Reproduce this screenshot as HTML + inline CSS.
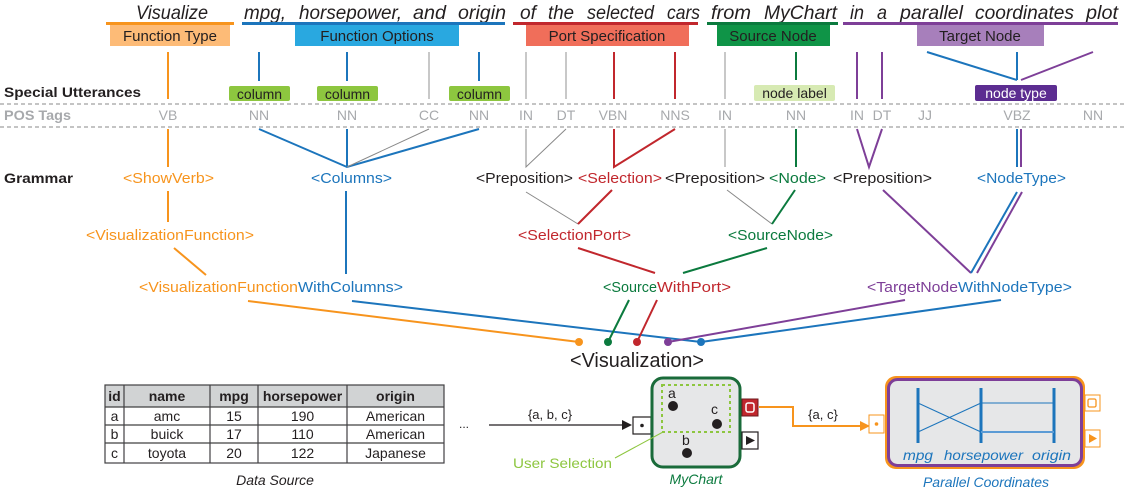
<!DOCTYPE html>
<html><head><meta charset="utf-8"><style>
html,body{margin:0;padding:0;background:#fff;}
svg{display:block;font-family:"Liberation Sans",sans-serif;}
</style></head><body>
<svg width="1124" height="491" viewBox="0 0 1124 491" xmlns="http://www.w3.org/2000/svg">
<!-- sentence -->
<g font-size="19" font-style="italic" fill="#231f20">
<text x="136" y="19" textLength="72" lengthAdjust="spacingAndGlyphs">Visualize</text>
<text x="244" y="19" textLength="42" lengthAdjust="spacingAndGlyphs">mpg,</text>
<text x="299" y="19" textLength="103" lengthAdjust="spacingAndGlyphs">horsepower,</text>
<text x="413" y="19" textLength="33" lengthAdjust="spacingAndGlyphs">and</text>
<text x="458" y="19" textLength="48" lengthAdjust="spacingAndGlyphs">origin</text>
<text x="520" y="19" textLength="16" lengthAdjust="spacingAndGlyphs">of</text>
<text x="548" y="19" textLength="26" lengthAdjust="spacingAndGlyphs">the</text>
<text x="587" y="19" textLength="67" lengthAdjust="spacingAndGlyphs">selected</text>
<text x="667" y="19" textLength="33" lengthAdjust="spacingAndGlyphs">cars</text>
<text x="711" y="19" textLength="40" lengthAdjust="spacingAndGlyphs">from</text>
<text x="764" y="19" textLength="73" lengthAdjust="spacingAndGlyphs">MyChart</text>
<text x="850" y="19" textLength="14" lengthAdjust="spacingAndGlyphs">in</text>
<text x="877" y="19" textLength="10" lengthAdjust="spacingAndGlyphs">a</text>
<text x="900" y="19" textLength="63" lengthAdjust="spacingAndGlyphs">parallel</text>
<text x="975" y="19" textLength="99" lengthAdjust="spacingAndGlyphs">coordinates</text>
<text x="1086" y="19" textLength="32" lengthAdjust="spacingAndGlyphs">plot</text>
</g>
<!-- underlines -->
<rect x="106" y="22" width="128" height="3" fill="#f7941d"/>
<rect x="242" y="22" width="263" height="3" fill="#1c75bc"/>
<rect x="513" y="22" width="185" height="3" fill="#c1272d"/>
<rect x="707" y="22" width="131" height="3" fill="#0b7a3e"/>
<rect x="843" y="22" width="275" height="3" fill="#7e3f98"/>
<!-- label boxes -->
<rect x="110" y="25" width="120" height="21" fill="#fdbb77"/>
<rect x="295" y="25" width="164" height="21" fill="#29a8e0"/>
<rect x="526" y="25" width="163" height="21" fill="#f06e5a"/>
<rect x="717" y="25" width="113" height="21" fill="#0f9447"/>
<rect x="917" y="25" width="127" height="21" fill="#a77fbb"/>
<g font-size="15" fill="#231f20" text-anchor="middle">
<text x="170" y="41">Function Type</text>
<text x="377" y="41">Function Options</text>
<text x="607" y="41">Port Specification</text>
<text x="773" y="41">Source Node</text>
<text x="980" y="41">Target Node</text>
</g>
<!-- top verticals -->
<g stroke-width="2" fill="none">
<line x1="168" y1="52" x2="168" y2="99" stroke="#f7941d"/>
<line x1="259" y1="52" x2="259" y2="81" stroke="#1c75bc"/>
<line x1="347" y1="52" x2="347" y2="81" stroke="#1c75bc"/>
<line x1="429" y1="52" x2="429" y2="99" stroke="#aaa" stroke-width="1.3"/>
<line x1="479" y1="52" x2="479" y2="81" stroke="#1c75bc"/>
<line x1="526" y1="52" x2="526" y2="99" stroke="#aaa" stroke-width="1.3"/>
<line x1="566" y1="52" x2="566" y2="99" stroke="#aaa" stroke-width="1.3"/>
<line x1="614" y1="52" x2="614" y2="99" stroke="#c1272d"/>
<line x1="675" y1="52" x2="675" y2="99" stroke="#c1272d"/>
<line x1="725" y1="52" x2="725" y2="99" stroke="#aaa" stroke-width="1.3"/>
<line x1="796" y1="52" x2="796" y2="80" stroke="#0b7a3e"/>
<line x1="857" y1="52" x2="857" y2="99" stroke="#7e3f98"/>
<line x1="882" y1="52" x2="882" y2="99" stroke="#7e3f98"/>
<polyline points="927,52 1017,80" stroke="#1c75bc"/>
<line x1="1017" y1="52" x2="1017" y2="80" stroke="#1c75bc"/>
<polyline points="1021,80 1093,52" stroke="#7e3f98"/>
</g>
<!-- left labels -->
<text x="4" y="97" font-size="14" font-weight="bold" fill="#231f20" textLength="137" lengthAdjust="spacingAndGlyphs">Special Utterances</text>
<text x="4" y="120" font-size="14" font-weight="bold" fill="#a7a9ac" textLength="67" lengthAdjust="spacingAndGlyphs">POS Tags</text>
<text x="4" y="183" font-size="14" font-weight="bold" fill="#231f20" textLength="69" lengthAdjust="spacingAndGlyphs">Grammar</text>
<!-- utterance boxes -->
<g font-size="14" text-anchor="middle">
<rect x="229" y="86" width="61" height="15" rx="2" fill="#8dc63f"/>
<rect x="317" y="86" width="61" height="15" rx="2" fill="#8dc63f"/>
<rect x="449" y="86" width="61" height="15" rx="2" fill="#8dc63f"/>
<text x="259.5" y="99" fill="#231f20">column</text>
<text x="347.5" y="99" fill="#231f20">column</text>
<text x="479.5" y="99" fill="#231f20">column</text>
<rect x="754" y="85" width="81" height="16" rx="2" fill="#d7eab3"/>
<text x="794.5" y="98" fill="#231f20">node label</text>
<rect x="975" y="85" width="82" height="16" rx="2" fill="#5c2d91"/>
<text x="1016" y="98" fill="#fff">node type</text>
</g>
<!-- dashed -->
<line x1="0" y1="104" x2="1124" y2="104" stroke="#888" stroke-width="1" stroke-dasharray="4,3"/>
<line x1="0" y1="127" x2="1124" y2="127" stroke="#888" stroke-width="1" stroke-dasharray="4,3"/>
<!-- POS -->
<g font-size="14" fill="#a7a9ac" text-anchor="middle">
<text x="168" y="120">VB</text><text x="259" y="120">NN</text><text x="347" y="120">NN</text>
<text x="429" y="120">CC</text><text x="479" y="120">NN</text><text x="526" y="120">IN</text>
<text x="566" y="120">DT</text><text x="613" y="120">VBN</text><text x="675" y="120">NNS</text>
<text x="725" y="120">IN</text><text x="796" y="120">NN</text><text x="857" y="120">IN</text>
<text x="882" y="120">DT</text><text x="925" y="120">JJ</text><text x="1017" y="120">VBZ</text>
<text x="1093" y="120">NN</text>
</g>
<!-- POS -> grammar lines -->
<g stroke-width="2" fill="none">
<line x1="168" y1="129" x2="168" y2="167" stroke="#f7941d"/>
<polyline points="259,129 347,167 479,129" stroke="#1c75bc"/>
<line x1="347" y1="129" x2="347" y2="167" stroke="#1c75bc"/>
<line x1="429" y1="129" x2="347" y2="167" stroke="#888" stroke-width="1"/>
<polyline points="526,129 526,167 566,129" stroke="#888" stroke-width="1"/>
<polyline points="614,129 614,167 675,129" stroke="#c1272d"/>
<line x1="725" y1="129" x2="725" y2="167" stroke="#aaa" stroke-width="1.3"/>
<line x1="796" y1="129" x2="796" y2="167" stroke="#0b7a3e"/>
<polyline points="857,129 869,167 882,129" stroke="#7e3f98"/>
<line x1="1017" y1="129" x2="1017" y2="167" stroke="#1c75bc"/>
<line x1="1021" y1="129" x2="1021" y2="167" stroke="#7e3f98"/>
</g>
<!-- grammar row 1 -->
<g font-size="15">
<text x="123" y="183" fill="#f7941d" textLength="91" lengthAdjust="spacingAndGlyphs">&lt;ShowVerb&gt;</text>
<text x="311" y="183" fill="#1c75bc" textLength="81" lengthAdjust="spacingAndGlyphs">&lt;Columns&gt;</text>
<text x="476" y="183" fill="#231f20" textLength="97" lengthAdjust="spacingAndGlyphs">&lt;Preposition&gt;</text>
<text x="578" y="183" fill="#c1272d" textLength="84" lengthAdjust="spacingAndGlyphs">&lt;Selection&gt;</text>
<text x="665" y="183" fill="#231f20" textLength="100" lengthAdjust="spacingAndGlyphs">&lt;Preposition&gt;</text>
<text x="769" y="183" fill="#0b7a3e" textLength="57" lengthAdjust="spacingAndGlyphs">&lt;Node&gt;</text>
<text x="833" y="183" fill="#231f20" textLength="99" lengthAdjust="spacingAndGlyphs">&lt;Preposition&gt;</text>
<text x="977" y="183" fill="#1c75bc" textLength="89" lengthAdjust="spacingAndGlyphs">&lt;NodeType&gt;</text>
</g>
<!-- row1 -> row2 lines -->
<g stroke-width="2" fill="none">
<line x1="168" y1="191" x2="168" y2="222" stroke="#f7941d"/>
<polyline points="526,192 578,224" stroke="#888" stroke-width="1"/>
<polyline points="612,190 578,224" stroke="#c1272d"/>
<polyline points="727,190 772,224" stroke="#888" stroke-width="1"/>
<polyline points="795,190 772,224" stroke="#0b7a3e"/>
<line x1="346" y1="191" x2="346" y2="274" stroke="#1c75bc"/>
<polyline points="883,190 971,273" stroke="#7e3f98"/>
<polyline points="1017,192 971,273" stroke="#1c75bc"/>
<polyline points="1022,192 977,273" stroke="#7e3f98"/>
</g>
<!-- grammar row 2 -->
<g font-size="15">
<text x="86" y="240" fill="#f7941d" textLength="168" lengthAdjust="spacingAndGlyphs">&lt;VisualizationFunction&gt;</text>
<text x="518" y="240" fill="#c1272d" textLength="113" lengthAdjust="spacingAndGlyphs">&lt;SelectionPort&gt;</text>
<text x="728" y="240" fill="#0b7a3e" textLength="105" lengthAdjust="spacingAndGlyphs">&lt;SourceNode&gt;</text>
</g>
<g stroke-width="2" fill="none">
<line x1="174" y1="248" x2="206" y2="275" stroke="#f7941d"/>
<line x1="578" y1="248" x2="655" y2="273" stroke="#c1272d"/>
<line x1="767" y1="248" x2="683" y2="273" stroke="#0b7a3e"/>
</g>
<!-- grammar row 3 -->
<g font-size="15">
<text x="139" y="292" fill="#f7941d" textLength="159" lengthAdjust="spacingAndGlyphs">&lt;VisualizationFunction</text>
<text x="298" y="292" fill="#1c75bc" textLength="105" lengthAdjust="spacingAndGlyphs">WithColumns&gt;</text>
<text x="603" y="292" fill="#0b7a3e" textLength="54" lengthAdjust="spacingAndGlyphs">&lt;Source</text>
<text x="657" y="292" fill="#c1272d" textLength="74" lengthAdjust="spacingAndGlyphs">WithPort&gt;</text>
<text x="867" y="292" fill="#7e3f98" textLength="91" lengthAdjust="spacingAndGlyphs">&lt;TargetNode</text>
<text x="958" y="292" fill="#1c75bc" textLength="114" lengthAdjust="spacingAndGlyphs">WithNodeType&gt;</text>
</g>
<!-- to visualization -->
<g stroke-width="2" fill="none">
<line x1="248" y1="301" x2="579" y2="342" stroke="#f7941d"/>
<line x1="352" y1="301" x2="701" y2="342" stroke="#1c75bc"/>
<line x1="629" y1="300" x2="608" y2="342" stroke="#0b7a3e"/>
<line x1="657" y1="300" x2="637" y2="342" stroke="#c1272d"/>
<line x1="905" y1="300" x2="668" y2="342" stroke="#7e3f98"/>
<line x1="1001" y1="300" x2="701" y2="342" stroke="#1c75bc"/>
</g>
<circle cx="579" cy="342" r="4" fill="#f7941d"/>
<circle cx="608" cy="342" r="4" fill="#0b7a3e"/>
<circle cx="637" cy="342" r="4" fill="#c1272d"/>
<circle cx="668" cy="342" r="4" fill="#7e3f98"/>
<circle cx="701" cy="342" r="4" fill="#1c75bc"/>
<text x="570" y="367" font-size="20" fill="#231f20" textLength="134" lengthAdjust="spacingAndGlyphs">&lt;Visualization&gt;</text>
<!-- table -->
<rect x="105" y="385" width="339" height="22" fill="#d1d3d4"/>
<g stroke="#414042" stroke-width="1.2" fill="none">
<rect x="105" y="385" width="339" height="78"/>
<line x1="105" y1="407" x2="444" y2="407"/><line x1="105" y1="425" x2="444" y2="425"/><line x1="105" y1="443" x2="444" y2="443"/>
<line x1="124" y1="385" x2="124" y2="463"/><line x1="210" y1="385" x2="210" y2="463"/><line x1="258" y1="385" x2="258" y2="463"/><line x1="347" y1="385" x2="347" y2="463"/>
</g>
<g font-size="14" fill="#231f20" text-anchor="middle">
<g font-weight="bold"><text x="114.5" y="401">id</text><text x="167" y="401">name</text><text x="234" y="401">mpg</text><text x="302.5" y="401">horsepower</text><text x="395.5" y="401">origin</text></g>
<text x="114.5" y="421">a</text><text x="167" y="421">amc</text><text x="234" y="421">15</text><text x="302.5" y="421">190</text><text x="395.5" y="421">American</text>
<text x="114.5" y="439">b</text><text x="167" y="439">buick</text><text x="234" y="439">17</text><text x="302.5" y="439">110</text><text x="395.5" y="439">American</text>
<text x="114.5" y="458">c</text><text x="167" y="458">toyota</text><text x="234" y="458">20</text><text x="302.5" y="458">122</text><text x="395.5" y="458">Japanese</text>
<text x="275" y="485" font-style="italic">Data Source</text>
</g>
<text x="459" y="428" font-size="12" fill="#231f20">...</text>
<!-- arrow to MyChart -->
<line x1="489" y1="425" x2="624" y2="425" stroke="#231f20" stroke-width="1.3"/>
<polygon points="632,425 622,420 622,430" fill="#231f20"/>
<text x="550" y="419" font-size="13" fill="#231f20" text-anchor="middle">{a, b, c}</text>
<!-- MyChart -->
<rect x="633" y="417" width="18" height="17" fill="#fff" stroke="#231f20" stroke-width="1.2"/>
<circle cx="642" cy="425.5" r="1.8" fill="#231f20"/>
<rect x="652" y="378" width="88" height="89" rx="11" fill="#e6e7e8" stroke="#1a6b3a" stroke-width="3"/>
<rect x="662" y="385" width="68" height="47" fill="none" stroke="#8dc63f" stroke-width="2" stroke-dasharray="3,3"/>
<g font-size="14" fill="#231f20">
<text x="668" y="398">a</text><text x="711" y="414">c</text><text x="682" y="445">b</text>
</g>
<circle cx="673" cy="406" r="5" fill="#231f20"/>
<circle cx="717" cy="424" r="5" fill="#231f20"/>
<circle cx="687" cy="453" r="5" fill="#231f20"/>
<rect x="742" y="399" width="16" height="17" fill="#c1272d" stroke="#6d1a1d" stroke-width="1"/>
<rect x="746" y="403" width="8" height="9" rx="2" fill="none" stroke="#fff" stroke-width="1.5"/>
<rect x="742" y="432" width="16" height="17" fill="#fff" stroke="#231f20" stroke-width="1.2"/>
<polygon points="746,436 755,440.5 746,445" fill="#231f20"/>
<line x1="663" y1="432" x2="615" y2="458" stroke="#8dc63f" stroke-width="1"/>
<text x="513" y="468" font-size="14" fill="#8dc63f" textLength="99" lengthAdjust="spacingAndGlyphs">User Selection</text>
<text x="696" y="484" font-size="14" font-style="italic" fill="#0b7a3e" text-anchor="middle">MyChart</text>
<!-- orange connector -->
<polyline points="759,407 793,407 793,426 862,426" fill="none" stroke="#f7941d" stroke-width="2"/>
<polygon points="870,426 860,421 860,431" fill="#f7941d"/>
<text x="823" y="419" font-size="13" fill="#231f20" text-anchor="middle">{a, c}</text>
<!-- Parallel Coordinates -->
<rect x="869" y="415" width="15" height="18" fill="#fff" stroke="#f7941d" stroke-width="1"/>
<circle cx="876.5" cy="424" r="1.8" fill="#f7941d"/>
<rect x="1085" y="395" width="15" height="16" fill="#fff" stroke="#f7941d" stroke-width="1"/>
<rect x="1088" y="399" width="8" height="8" rx="1.5" fill="none" stroke="#f7941d" stroke-width="1.3"/>
<rect x="1085" y="430" width="15" height="17" fill="#fff" stroke="#f7941d" stroke-width="1"/>
<polygon points="1089,434 1097,438.5 1089,443" fill="#f7941d"/>
<rect x="885" y="376" width="200" height="93" rx="11" fill="#f7941d"/>
<rect x="888.5" y="379.5" width="193" height="86" rx="9" fill="#e6e7e8" stroke="#7e3f98" stroke-width="3"/>
<g stroke="#1c75bc" fill="none">
<line x1="918" y1="388" x2="918" y2="443" stroke-width="3"/>
<line x1="981" y1="388" x2="981" y2="443" stroke-width="3"/>
<line x1="1054" y1="388" x2="1054" y2="443" stroke-width="3"/>
<line x1="918" y1="403" x2="981" y2="432" stroke-width="1"/>
<line x1="918" y1="432" x2="981" y2="403" stroke-width="1"/>
<line x1="981" y1="403" x2="1054" y2="403" stroke-width="1"/>
<line x1="981" y1="432" x2="1054" y2="432" stroke-width="2" stroke="#5b9bd5"/>
</g>
<g font-size="14" font-style="italic" fill="#1c75bc">
<text x="903" y="460" textLength="30" lengthAdjust="spacingAndGlyphs">mpg</text>
<text x="944" y="460" textLength="79" lengthAdjust="spacingAndGlyphs">horsepower</text>
<text x="1032" y="460" textLength="39" lengthAdjust="spacingAndGlyphs">origin</text>
<text x="986" y="487" text-anchor="middle">Parallel Coordinates</text>
</g>
</svg>
</body></html>
